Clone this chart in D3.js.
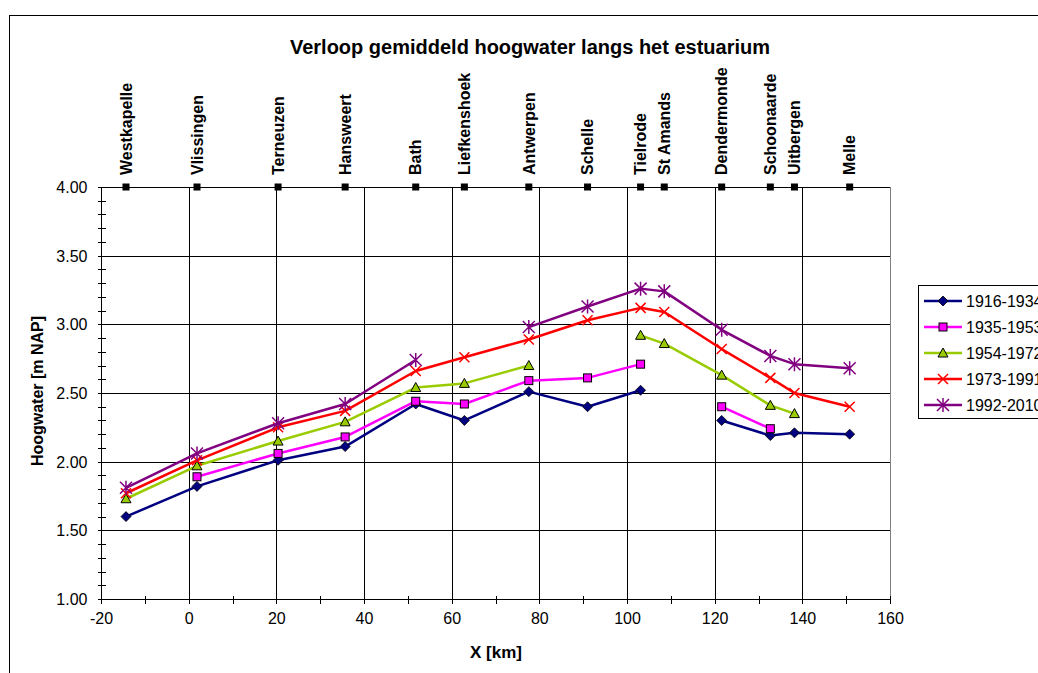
<!DOCTYPE html>
<html>
<head>
<meta charset="utf-8">
<script src="https://cdn.jsdelivr.net/npm/d3@7"></script>
<style>
body{margin:0;background:#fff;}
svg{display:block;font-family:"Liberation Sans",Arial,sans-serif;}
</style>
</head>
<body>
<div class="chart"></div>
<script>
var totalWidth = 1038;
var totalHeight = 673;
// stations along the estuary
var stations = ["Westkapelle","Vlissingen","Terneuzen","Hansweert","Bath","Liefkenshoek","Antwerpen","Schelle","Tielrode","St Amands","Dendermonde","Schoonaarde","Uitbergen","Melle"];
var km = [-14.3,1.9,20.4,35.7,51.8,62.9,77.6,91.0,103.1,108.5,121.6,132.7,138.2,150.8];
// mean high water per period [m NAP], null = no value
var s1916 = [1.60,1.82,2.01,2.11,2.42,2.30,2.51,2.40,2.52,null,2.30,2.19,2.21,2.20];
var s1935 = [null,1.89,2.06,2.18,2.44,2.42,2.59,2.61,2.71,null,2.40,2.24,null,null];
var s1954 = [1.73,1.97,2.15,2.29,2.54,2.57,2.70,null,2.92,2.86,2.63,2.41,2.35,null];
var s1973 = [1.77,2.01,2.25,2.37,2.66,2.76,2.89,3.03,3.12,3.09,2.82,2.61,2.50,2.40];
var s1992 = [1.81,2.06,2.28,2.42,2.74,null,2.98,3.13,3.26,3.24,2.96,2.77,2.71,2.68];
var periods = ["1916-1934","1935-1953","1954-1972","1973-1991","1992-2010"];
var xTicks = [-20,0,20,40,60,80,100,120,140,160];
var yTicks = [1.0,1.5,2.0,2.5,3.0,3.5,4.0];

var seriesValues = [s1916,s1935,s1954,s1973,s1992];
var colorArray = ["#000080","#ff00ff","#99cc00","#ff0000","#800080"];
var markerArray = ["diamond","square","triangle","cross","star"];

var svg = d3.select(".chart").append("svg")
	.attr("width",totalWidth)
	.attr("height",totalHeight);

// chart frame
svg.append("rect")
	.attr("x",9.5)
	.attr("y",15.5)
	.attr("width",1060)
	.attr("height",700)
	.attr("fill","none")
	.attr("stroke","#000")
	.attr("stroke-width",1);

var x = d3.scaleLinear().domain([-20,160]).range([101,890]);
var y = d3.scaleLinear().domain([1,4]).range([599,187]);

// grid
var grid = svg.append("g").attr("shape-rendering","crispEdges");
grid.selectAll(".hg").data(yTicks.slice(1))
	.enter().append("line")
		.attr("x1",x(-20))
		.attr("x2",x(160))
		.attr("y1",function(d){ return Math.round(y(d))+0.5; })
		.attr("y2",function(d){ return Math.round(y(d))+0.5; })
		.attr("stroke","#000");
grid.selectAll(".vg").data(xTicks.slice(1))
	.enter().append("line")
		.attr("x1",function(d){ return Math.round(x(d))+0.5; })
		.attr("x2",function(d){ return Math.round(x(d))+0.5; })
		.attr("y1",y(4))
		.attr("y2",y(1))
		.attr("stroke",function(d){ return d == 160 ? "#808080" : "#000"; });

// axes
var xAxis = svg.append("g")
	.attr("transform","translate(0,"+(Math.round(y(1))+0.5)+")")
	.call(d3.axisBottom(x).tickValues(d3.range(-20,161,10)).tickSize(4).tickFormat(function(d){ return d % 20 == 0 ? d : ""; }));
var yAxis = svg.append("g")
	.attr("transform","translate("+(Math.round(x(-20))+0.5)+",0)")
	.call(d3.axisLeft(y).tickValues(d3.range(10,41,1).map(function(d){ return d/10; })).tickSize(4).tickFormat(function(d){ return Math.round(d*10) % 5 == 0 ? d3.format(".2f")(d) : ""; }));
xAxis.select(".domain").attr("d","M"+x(-20)+",0H"+x(160));
yAxis.select(".domain").attr("d","M0,"+y(1)+"V"+y(4));
xAxis.selectAll(".tick line").attr("y1",-4).attr("y2",4);
yAxis.selectAll(".tick line").attr("x1",-4).attr("x2",4);
svg.selectAll(".domain, .tick line").attr("stroke","#000").attr("shape-rendering","crispEdges");
xAxis.selectAll(".tick text")
	.attr("y",13)
	.attr("dy","0.71em")
	.attr("font-size",16)
	.attr("font-family","Liberation Sans, Arial, sans-serif")
	.attr("fill","#000");
yAxis.selectAll(".tick text")
	.attr("x",-14)
	.attr("dy","0.35em")
	.attr("font-size",16)
	.attr("font-family","Liberation Sans, Arial, sans-serif")
	.attr("fill","#000");

// station markers on top
var topAxis = svg.append("g");
topAxis.selectAll("rect").data(km)
	.enter().append("rect")
		.attr("x",function(d){ return x(d)-3.5; })
		.attr("y",y(4)-3.5)
		.attr("width",7)
		.attr("height",7)
		.attr("fill","#000");
topAxis.selectAll("text").data(stations)
	.enter().append("text")
		.text(function(d){ return d; })
		.attr("transform",function(d,i){ return "translate("+x(km[i])+","+(y(4)-12)+") rotate(-90)"; })
		.attr("dy","0.36em")
		.attr("text-anchor","start")
		.attr("font-size",16)
		.attr("font-weight","bold");

// markers
function drawMarker(g,type,color){
	if(type == "diamond"){
		g.append("path").attr("d","M0,-5L5,0L0,5L-5,0Z").attr("fill",color).attr("stroke","#000").attr("stroke-width",0.8);
	}else if(type == "square"){
		g.append("rect").attr("x",-4).attr("y",-4).attr("width",8).attr("height",8).attr("fill",color).attr("stroke","#000").attr("stroke-width",1);
	}else if(type == "triangle"){
		g.append("path").attr("d","M0,-5L5,4L-5,4Z").attr("fill",color).attr("stroke","#000").attr("stroke-width",1);
	}else if(type == "cross"){
		g.append("path").attr("d","M-5,-5L5,5M-5,5L5,-5").attr("fill","none").attr("stroke",color).attr("stroke-width",1.5);
	}else{
		g.append("path").attr("d","M-6,-6L6,6M-6,6L6,-6M0,-7L0,7").attr("fill","none").attr("stroke",color).attr("stroke-width",1.5);
	}
}

// series
var line = d3.line()
	.defined(function(d){ return d.v != null; })
	.x(function(d){ return x(d.k); })
	.y(function(d){ return y(d.v); });
for(var i=0; i<seriesValues.length; i++){
	var pts = seriesValues[i].map(function(v,u){ return {k:km[u], v:v}; });
	var g = svg.append("g").classed(markerArray[i],true);
	g.append("path")
		.attr("d",line(pts))
		.attr("fill","none")
		.attr("stroke",colorArray[i])
		.attr("stroke-width",2.5)
		.attr("stroke-linejoin","round");
	for(var u=0; u<pts.length; u++){
		if(pts[u].v == null){ continue; }
		drawMarker(g.append("g").attr("transform","translate("+x(pts[u].k)+","+y(pts[u].v)+")"),markerArray[i],colorArray[i]);
	}
}

// legend
var legend = svg.append("g");
legend.append("rect")
	.attr("x",918.5)
	.attr("y",285.5)
	.attr("width",140)
	.attr("height",133)
	.attr("fill","#fff")
	.attr("stroke","#000");
for(var i=0; i<periods.length; i++){
	var ly = 301 + i*26;
	legend.append("line")
		.attr("x1",924)
		.attr("x2",962)
		.attr("y1",ly)
		.attr("y2",ly)
		.attr("stroke",colorArray[i])
		.attr("stroke-width",2.5);
	drawMarker(legend.append("g").attr("transform","translate(943,"+ly+")"),markerArray[i],colorArray[i]);
	legend.append("text")
		.text(periods[i])
		.attr("x",966)
		.attr("y",ly)
		.attr("dy","0.36em")
		.attr("font-size",16);
}

// titles
svg.append("text")
	.text("Verloop gemiddeld hoogwater langs het estuarium")
	.attr("x",530)
	.attr("y",54)
	.attr("text-anchor","middle")
	.attr("font-size",20)
	.attr("font-weight","bold");
svg.append("text")
	.text("X [km]")
	.attr("x",496)
	.attr("y",658)
	.attr("text-anchor","middle")
	.attr("font-size",17)
	.attr("font-weight","bold");
svg.append("text")
	.text("Hoogwater [m NAP]")
	.attr("transform","translate(43,391) rotate(-90)")
	.attr("text-anchor","middle")
	.attr("font-size",16)
	.attr("font-weight","bold");
</script>
</body>
</html>
